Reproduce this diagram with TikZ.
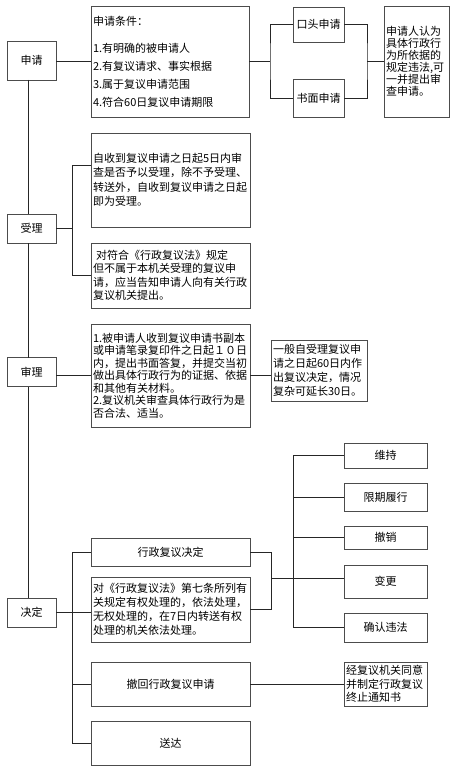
\documentclass[tikz,border=0pt]{standalone}
\usepackage{fontspec}
\setmainfont{Noto Sans CJK SC}
\usetikzlibrary{calc}
\begin{document}
\begin{tikzpicture}[x=1pt,y=-1pt,
  box/.style={draw=black!70, line width=0.8pt, fill=white, inner sep=0pt, outer sep=0pt},
  cb/.style 2 args={box, align=center, minimum width=#1pt, minimum height=#2pt, font=\fontsize{11}{13}\selectfont},
  lb/.style n args={4}{box, align=left, inner xsep=2pt, minimum width=#1pt, minimum height=#2pt, text width=#3pt, font=\fontsize{11}{#4}\selectfont},
  conn/.style={draw=black!85, line width=0.9pt}]
\useasboundingbox (0,0) rectangle (450,770);
\fill[white] (0,0) rectangle (450,770);

% stage labels
\node[cb={49}{39}] (sq) at (31.5,60.5) {申请};
\node[cb={49}{29}] (sl) at (31.5,228.5) {受理};
\node[cb={49}{29}] (sh) at (31.5,372) {审理};
\node[cb={49}{29}] (jd) at (31.5,612.5) {决定};

% 申请
\node[lb={158}{111}{154}{18}] (cond) at (170,61.5) {申请条件：\\[9pt]1.有明确的被申请人\\2.有复议请求、事实根据\\3.属于复议申请范围\\4.符合60日复议申请期限};
\node[cb={51}{35}] (kt) at (318.5,24.5) {口头申请};
\node[cb={51}{38}] (sm) at (318.5,98) {书面申请};
\node[lb={65}{111}{61}{12}] (rr) at (416.5,61.5) {申请人认为\\具体行政行\\为所依据的\\规定违法,可\\一并提出审\\查申请。};

% 受理
\node[lb={159}{94}{155}{14.5}] (sl1) at (170.5,180) {自收到复议申请之日起5日内审\\查是否予以受理，除不予受理、\\转送外，自收到复议申请之日起\\即为受理。};
\node[lb={159}{65}{155}{13.5}] (sl2) at (170.5,275.5) {\hspace{3pt}对符合《行政复议法》规定\\但不属于本机关受理的复议申\\请，应当告知申请人向有关行政\\复议机关提出。};

% 审理
\node[lb={159}{103}{155}{12.5}] (shm) at (170.5,375.5) {1.被申请人收到复议申请书副本\\或申请笔录复印件之日起１０日\\内，提出书面答复，并提交当初\\做出具体行政行为的证据、依据\\和其他有关材料。\\2.复议机关审查具体行政行为是\\否合法、适当。};
\node[lb={96}{61}{92}{14}] (shr) at (319,370.5) {一般自受理复议申\\请之日起60日内作\\出复议决定，情况\\复杂可延长30日。};

% 决定
\node[cb={159}{28}] (xz) at (170.5,552) {行政复议决定};
\node[lb={159}{65}{155}{14}] (dx) at (170.5,609.5) {对《行政复议法》第七条所列有\\关规定有权处理的，依法处理，\\无权处理的，在7日内转送有权\\处理的机关依法处理。};
\node[cb={159}{44}] (ch) at (170.5,684) {撤回行政复议申请};
\node[lb={83}{44}{79}{13.5}] (zz) at (385.5,684) {经复议机关同意\\并制定行政复议\\终止通知书};
\node[cb={159}{44}] (sd) at (170.5,743) {送达};

\node[cb={83}{25}] (ws) at (385.5,455.5) {维持};
\node[cb={83}{28}] (xq) at (385.5,497) {限期履行};
\node[cb={83}{23}] (cx) at (385.5,537.5) {撤销};
\node[cb={83}{33}] (bg) at (385.5,581.5) {变更};
\node[cb={83}{29}] (qr) at (385.5,627.5) {确认违法};

% helper coordinates
\coordinate (sp) at (28,0);
\coordinate (b1) at (72,0);
\coordinate (b2) at (271,0);
\coordinate (b3) at (293,0);
\coordinate (j1) at (270,61.5);
\coordinate (j2) at (367,61.5);
\coordinate (s1) at ($(sl1.north west)+(0,32)$);
\coordinate (m) at (271,578);

% spine
\draw[conn] (sq.south -| sp) -- (sl.north -| sp);
\draw[conn] (sl.south -| sp) -- (sh.north -| sp);
\draw[conn] (sh.south -| sp) -- (jd.north -| sp);

% 申请 connectors
\draw[conn] (sq.east |- cond.west) -- (cond.west);
\draw[conn] (cond.east) -- (j1);
\draw[conn] (kt.west) -| (j1) |- (sm.west);
\draw[conn] (kt.east) -| (j2) |- (sm.east);
\draw[conn] (j2) -- (rr.west);

% 受理 connectors
\draw[conn] (sl.east) -- (sl.east -| b1);
\draw[conn] (s1) -- (s1 -| b1) -- (sl2.west -| b1) -- (sl2.west);

% 审理 connectors
\draw[conn] (sh.east |- shm.west) -- (shm.west);
\draw[conn] (shm.east) -- (shr.west |- shm.east);

% 决定 connectors
\draw[conn] (jd.east) -- (jd.east -| dx.west);
\draw[conn] (xz.west) -- (xz.west -| b1) -- (sd.west -| b1) -- (sd.west);
\draw[conn] (ch.west -| b1) -- (ch.west);
\draw[conn] (ch.east) -- (zz.west);
\draw[conn] (xz.east) -- (xz.east -| b2) -- (dx.east -| b2) -- (dx.east);
\draw[conn] (m) -- (m -| bg.west);
\draw[conn] (ws.west -| b3) -- (qr.west -| b3);
\draw[conn] (ws.west -| b3) -- (ws.west);
\draw[conn] (xq.west -| b3) -- (xq.west);
\draw[conn] (cx.west -| b3) -- (cx.west);
\draw[conn] (qr.west -| b3) -- (qr.west);
\end{tikzpicture}
\end{document}
